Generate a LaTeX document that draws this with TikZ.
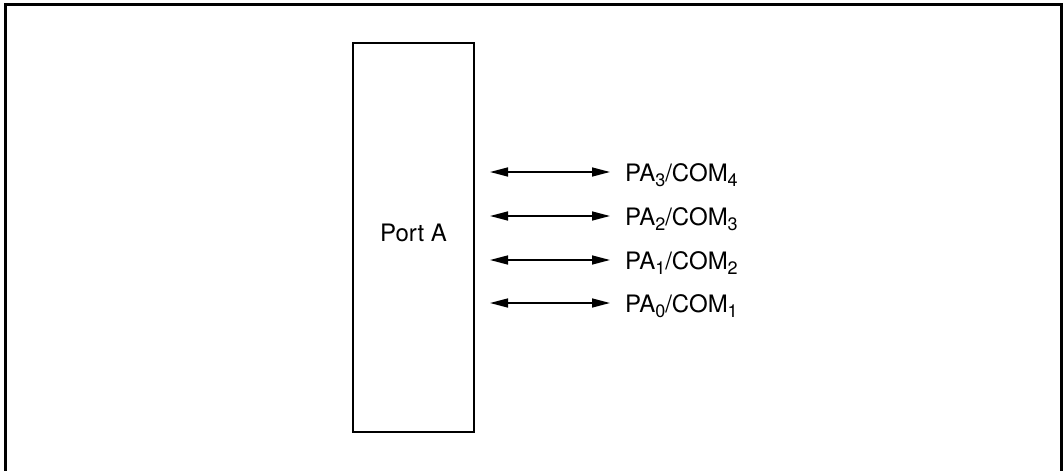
\documentclass[tikz,border=0pt]{standalone}
\usepackage{fontspec}
\setmainfont{TeX Gyre Heros}
\usetikzlibrary{arrows.meta,calc}
\newcommand\subsc[1]{\raisebox{-5pt}{\fontsize{18}{18}\selectfont #1}}
\begin{document}
\begin{tikzpicture}[x=1pt,y=-1pt,
  frame/.style={line width=2.2pt},
  box/.style={draw,line width=2pt,minimum width=121pt,minimum height=389pt,inner sep=0pt},
  lbl/.style={anchor=base west,inner sep=0pt,font=\fontsize{24}{24}\selectfont},
  biarrow/.style={line width=1.5pt,{Triangle[length=18pt,width=9pt]}-{Triangle[length=18pt,width=9pt]}}]
\useasboundingbox (0,0) rectangle (1063,471);
\draw[frame] (5.5,471) -- (5.5,4.5) -- (1061.5,4.5) -- (1061.5,471);
\node[box] (portA) at (413.5,237.5) {};
\node[anchor=base,inner sep=0pt,font=\fontsize{24}{24}\selectfont] (portAtext) at ($(portA.center)+(0,3.5)$) {Port A};
\foreach \i/\y/\c in {3/172/4,2/216/3,1/260/2,0/303/1}{
  \coordinate (l\i) at (490,\y);
  \coordinate (r\i) at (610,\y);
  \draw[biarrow] (l\i) -- (r\i);
  \node[lbl] (pa\i) at (625,\y+9) {PA\subsc{\i}/COM\subsc{\c}};
}
\end{tikzpicture}
\end{document}
